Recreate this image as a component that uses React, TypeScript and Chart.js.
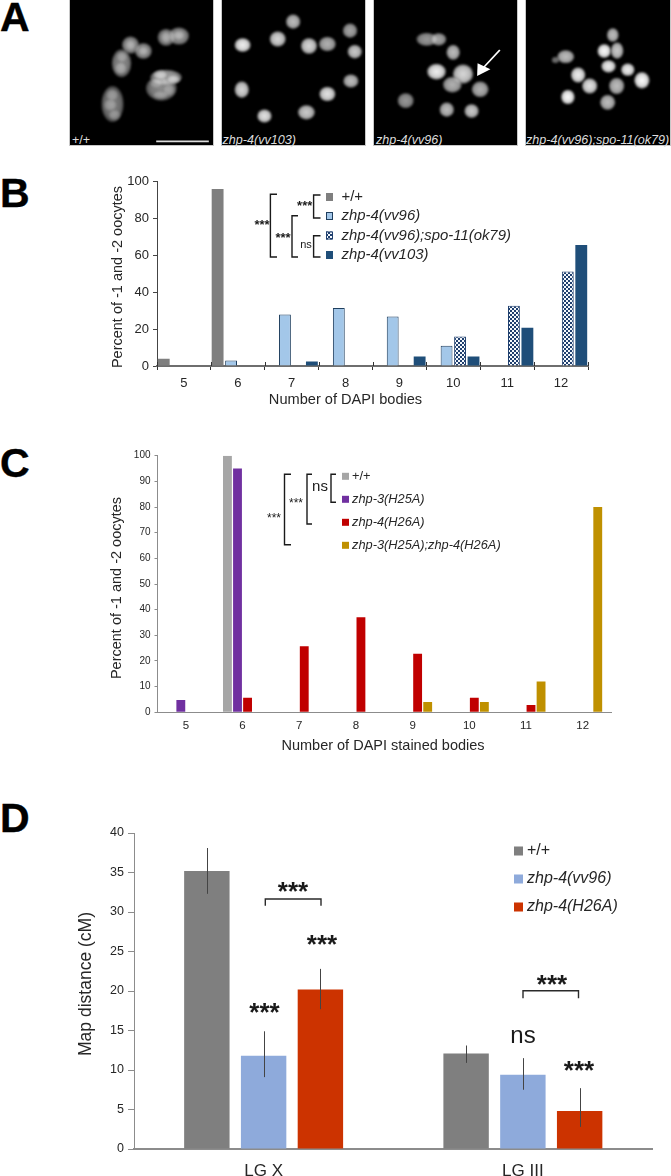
import React, { useEffect, useRef } from "react";
import { Chart, registerables } from "chart.js";

Chart.register(...registerables);

// ---------- data ----------
const bodiesCategories = ["5", "6", "7", "8", "9", "10", "11", "12"];
const bSeriesNames = ["+/+", "zhp-4(vv96)", "zhp-4(vv96);spo-11(ok79)", "zhp-4(vv103)"];
const bWildType = [4, 96, null, null, null, null, null, null];
const bVv96 = [null, 3, 28, 31.5, 26.8, 11, null, null];
const bVv96Spo11 = [null, null, null, null, null, 16, 32.7, 51.3];
const bVv103 = [null, null, 2.5, null, 5.2, 5.2, 20.7, 65.7];

const cSeriesNames = ["+/+", "zhp-3(H25A)", "zhp-4(H26A)", "zhp-3(H25A);zhp-4(H26A)"];
const cWildType = [null, 100, null, null, null, null, null, null];
const cZhp3 = [4.8, 95, null, null, null, null, null, null];
const cZhp4 = [null, 5.7, 25.7, 37, 22.8, 5.7, 2.8, null];
const cDouble = [null, null, null, null, 4, 4, 12, 80];

const dCategories = ["LG X", "LG III"];
const dSeriesNames = ["+/+", "zhp-4(vv96)", "zhp-4(H26A)"];
const dWildType = [35.2, 12.1];
const dVv96 = [11.8, 9.4];
const dH26A = [20.2, 4.8];
const dWildTypeErr = [[32.3, 38.1], [10.9, 13.1]];
const dVv96Err = [[9.1, 14.9], [7.5, 11.5]];
const dH26AErr = [[17.7, 22.8], [2.8, 7.7]];

// ---------- panel A micrographs (not chart data): cx, cy, rx, ry, level ----------
const blobs = [
  [388,112,20,26,.55],[418,108,24,26,.6],[305,135,20,26,.6],[335,153,20,24,.6],[284,190,23,42,.55],[388,232,37,23,.65],[377,265,36,37,.55],[263,312,26,54,.5],
  [388,112,12,18,.35],[418,106,14,14,.35],[305,135,12,16,.3],[335,153,12,14,.3],
  [285,170,13,16,.3],[282,205,14,18,.35],[375,225,17,14,.6],[405,238,16,13,.6],
  [365,250,15,14,.3],[395,270,14,18,.3],[375,285,18,12,.3],
  [262,285,14,18,.3],[258,315,15,18,.3],[268,345,14,16,.3],
  [685,65,17,22,.75],[818,92,17,22,.65],[649,117,19,23,.85],[567,135,19,21,.95],[722,138,19,24,.85],[765,132,20,22,.7],[829,155,17,21,.8],[820,243,18,20,.75],[565,269,17,25,.85],[765,282,19,22,.9],[716,337,20,22,.8],[618,348,17,20,.9],
  [997,118,24,20,.6],[1025,118,18,19,.65],[1059,157,16,23,.75],[1020,215,22,24,.95],[1082,222,24,29,.85],[1057,254,22,24,.7],[1122,268,20,24,.7],[948,302,19,23,.6],[1044,329,17,22,.75],[1102,333,17,21,.8],
  [1432,105,14,21,.75],[1412,153,16,21,1],[1442,152,15,25,.8],[1322,170,20,20,.75],[1298,180,9,10,.45],[1422,199,17,19,.95],[1467,209,16,19,.95],[1351,225,17,23,.95],[1378,258,18,23,.9],[1441,258,18,25,.75],[1500,241,18,25,1],[1327,291,16,22,1],[1420,307,18,23,.75],
];
const frames = [[69, 145], [221, 145], [373, 145], [525, 146]];
const captions = [
  { text: "+/+", x: 72 },
  { text: "zhp-4(vv103)", x: 222.5 },
  { text: "zhp-4(vv96)", x: 376 },
  { text: "zhp-4(vv96);spo-11(ok79)", x: 526 },
];
const panelLetters = [
  { t: "A", y: -6 }, { t: "B", y: 170 }, { t: "C", y: 440 }, { t: "D", y: 795 },
];

// ---------- annotation layout, page pixels ----------
const bBrackets = [[277, 270.4, 194.3, 257], [298, 292, 215.7, 257], [320.5, 313.6, 195, 218], [320.5, 313.6, 235.7, 257]];
const bNotes = [
  { t: "***", x: 262, y: 225, f: "bold 13px 'Liberation Sans'" },
  { t: "***", x: 283, y: 238, f: "bold 13px 'Liberation Sans'" },
  { t: "***", x: 304.7, y: 206, f: "bold 13px 'Liberation Sans'" },
  { t: "ns", x: 306, y: 245, f: "11px 'Liberation Sans'" },
];
const bLegendY = [197, 216, 235.5, 255];
const cBrackets = [[291, 284.5, 474.3, 544.7], [312, 307, 474.3, 524], [336, 331, 474.3, 502.3]];
const cNotes = [
  { t: "***", x: 274, y: 519, f: "12px 'Liberation Sans'" },
  { t: "***", x: 296, y: 504, f: "12px 'Liberation Sans'" },
  { t: "ns", x: 320, y: 487, f: "15px 'Liberation Sans'" },
];
const cLegendY = [476.3, 499.3, 522.3, 545.3];
const dBraces = [[265.3, 321, 899, 905.7], [523, 578.5, 990.7, 998.3]];
const dNotes = [
  { t: "***", x: 293, y: 893, f: "bold 26px 'Liberation Sans'" },
  { t: "***", x: 552, y: 986, f: "bold 26px 'Liberation Sans'" },
  { t: "***", x: 264.5, y: 1014, f: "bold 26px 'Liberation Sans'" },
  { t: "***", x: 322, y: 946, f: "bold 26px 'Liberation Sans'" },
  { t: "***", x: 579, y: 1072, f: "bold 26px 'Liberation Sans'" },
  { t: "ns", x: 523, y: 1036, f: "24px 'Liberation Sans'" },
];
const dLegendY = [851, 879, 907];

const FONT = "'Liberation Sans', Arial, sans-serif";
const TEXT = "#262626";

function checker() {
  const c = document.createElement("canvas");
  c.width = 4; c.height = 4;
  const x = c.getContext("2d")!;
  x.fillStyle = "#f4f8fc"; x.fillRect(0, 0, 4, 4);
  x.fillStyle = "#1f3f6e"; x.fillRect(0, 0, 2, 2); x.fillRect(2, 2, 2, 2);
  return x.createPattern(c, "repeat")!;
}

type Ann = {
  top: number;
  brackets?: number[][];
  braces?: number[][];
  notes: { t: string; x: number; y: number; f: string }[];
  legend: { names: string[]; ys: number[]; box: number[]; textX: number; font: string };
  errors?: number[][][];
  crossTicks?: boolean;
  bracketColor: string;
  yTitle: { text: string; x: number; y: number; size: number };
  xTitle?: { text: string; x: number; y: number; size: number };
};

function annotationPlugin(a: Ann) {
  return {
    id: "panelAnnotations",
    afterDatasetsDraw(chart: any) {
      const ctx = chart.ctx;
      ctx.save();
      // error bars
      (a.errors || []).forEach((series, i) => {
        const meta = chart.getDatasetMeta(i);
        series.forEach(([lo, hi], j) => {
          const x = Math.round(meta.data[j].x) + 0.5;
          ctx.strokeStyle = "#444"; ctx.lineWidth = 1;
          ctx.beginPath();
          ctx.moveTo(x, chart.scales.y.getPixelForValue(lo));
          ctx.lineTo(x, chart.scales.y.getPixelForValue(hi));
          ctx.stroke();
        });
      });
      if (a.crossTicks) {
        const sx = chart.scales.x;
        ctx.strokeStyle = "#333"; ctx.lineWidth = 1;
        const n = sx.ticks.length;
        for (let i = 0; i <= n; i++) {
          const x = Math.round(chart.chartArea.left + (i * chart.chartArea.width) / n) + 0.5;
          ctx.beginPath();
          ctx.moveTo(x, chart.chartArea.bottom - 4);
          ctx.lineTo(x, chart.chartArea.bottom);
          ctx.stroke();
        }
      }
      ctx.strokeStyle = a.bracketColor; ctx.lineWidth = 1.4; ctx.lineJoin = "miter";
      (a.brackets || []).forEach(([x1, x0, y0, y1]) => {
        ctx.beginPath();
        ctx.moveTo(x1, y0 - a.top); ctx.lineTo(x0, y0 - a.top);
        ctx.lineTo(x0, y1 - a.top); ctx.lineTo(x1, y1 - a.top);
        ctx.stroke();
      });
      (a.braces || []).forEach(([x0, x1, y0, y1]) => {
        ctx.beginPath();
        ctx.moveTo(x0, y1 - a.top); ctx.lineTo(x0, y0 - a.top);
        ctx.lineTo(x1, y0 - a.top); ctx.lineTo(x1, y1 - a.top);
        ctx.stroke();
      });
      ctx.fillStyle = "#1a1a1a"; ctx.textAlign = "center"; ctx.textBaseline = "middle";
      a.notes.forEach((n) => {
        ctx.font = n.f;
        ctx.fillText(n.t, n.x, n.y - a.top);
      });
      // axis titles
      ctx.fillStyle = TEXT;
      if (a.xTitle) {
        ctx.font = `${a.xTitle.size}px ${FONT}`;
        ctx.fillText(a.xTitle.text, a.xTitle.x, a.xTitle.y - a.top);
      }
      ctx.save();
      ctx.translate(a.yTitle.x, a.yTitle.y - a.top);
      ctx.rotate(-Math.PI / 2);
      ctx.font = `${a.yTitle.size}px ${FONT}`;
      ctx.fillText(a.yTitle.text, 0, 0);
      ctx.restore();
      // legend
      const [bx, bw, bh] = a.legend.box;
      a.legend.names.forEach((name, i) => {
        const y = a.legend.ys[i] - a.top;
        const ds = chart.data.datasets[i];
        ctx.fillStyle = ds.backgroundColor;
        ctx.fillRect(bx, y - bh / 2, bw, bh);
        if (ds.borderWidth) {
          ctx.strokeStyle = ds.borderColor; ctx.lineWidth = 1;
          ctx.strokeRect(bx + 0.5, y - bh / 2 + 0.5, bw - 1, bh - 1);
        }
        ctx.fillStyle = TEXT; ctx.textAlign = "left";
        ctx.font = (name === "+/+" ? "" : "italic ") + a.legend.font;
        ctx.fillText(name, a.legend.textX, y);
      });
      ctx.restore();
    },
  };
}

function build(
  canvas: HTMLCanvasElement,
  opts: {
    labels: string[]; datasets: any[]; pad: any; yWidth: number; xHeight: number;
    yMax: number; yStep: number; yTick: number; xTick: number; xPad: number;
    axisY: string; axisX: string; xWidth: number; xTicks?: boolean; yTickLen: number; ann: Ann;
  }
) {
  return new Chart(canvas, {
    type: "bar",
    data: { labels: opts.labels, datasets: opts.datasets },
    plugins: [annotationPlugin(opts.ann)],
    options: {
      animation: false,
      responsive: false,
      devicePixelRatio: 1,
      layout: { padding: opts.pad, autoPadding: false },
      plugins: { legend: { display: false }, tooltip: { enabled: false }, title: { display: false } },
      scales: {
        x: {
          grid: {
            display: !!opts.xTicks, drawOnChartArea: false, drawTicks: !!opts.xTicks,
            tickLength: 4, color: "#333", offset: true,
          },
          border: { color: opts.axisX, width: opts.xWidth },
          ticks: { autoSkip: false, maxRotation: 0, padding: opts.xPad, color: TEXT, font: { family: FONT, size: opts.xTick } },
          afterFit(s: any) { s.height = opts.xHeight; },
        },
        y: {
          min: 0, max: opts.yMax,
          afterBuildTicks(s: any) {
            const t = [];
            for (let v = 0; v <= opts.yMax; v += opts.yStep) t.push({ value: v });
            s.ticks = t;
          },
          grid: { drawOnChartArea: false, tickLength: opts.yTickLen, color: opts.axisY },
          border: { color: opts.axisY, width: 1 },
          ticks: { padding: 4, color: TEXT, font: { family: FONT, size: opts.yTick } },
          afterFit(s: any) { s.width = opts.yWidth; },
        },
      },
    },
  } as any);
}

export default function App() {
  const bRef = useRef<HTMLCanvasElement>(null);
  const cRef = useRef<HTMLCanvasElement>(null);
  const dRef = useRef<HTMLCanvasElement>(null);

  useEffect(() => {
    const bShared = { categoryPercentage: 1, barPercentage: 0.88, borderSkipped: "bottom" };
    const b = build(bRef.current!, {
      labels: bodiesCategories,
      datasets: [
        { ...bShared, label: bSeriesNames[0], data: bWildType, backgroundColor: "#7f7f7f", borderWidth: 0 },
        { ...bShared, label: bSeriesNames[1], data: bVv96, backgroundColor: "#a3c7e9", borderColor: "#1f3f5f", borderWidth: 1 },
        { ...bShared, label: bSeriesNames[2], data: bVv96Spo11, backgroundColor: checker(), borderColor: "#1f3f6e", borderWidth: 1 },
        { ...bShared, label: bSeriesNames[3], data: bVv103, backgroundColor: "#1f4e79", borderWidth: 0 },
      ],
      pad: { left: 110, right: 83, top: 21.7, bottom: 11.3 },
      yWidth: 47, xHeight: 42.7, yMax: 100, yStep: 20,
      yTick: 13, xTick: 13, xPad: 6,
      axisY: "#444", axisX: "#6e6e6e", xWidth: 2, xTicks: true, yTickLen: 4,
      ann: {
        top: 160, brackets: bBrackets, notes: bNotes, crossTicks: true, bracketColor: "#1a1a1a",
        yTitle: { text: "Percent of -1 and -2 oocytes", x: 118, y: 277, size: 14.5 },
        xTitle: { text: "Number of DAPI bodies", x: 345.5, y: 400, size: 14.6 },
        legend: { names: bSeriesNames, ys: bLegendY, box: [326, 7, 8], textX: 341.5, font: `14.9px ${FONT}` },
      },
    });

    const cShared = { categoryPercentage: 0.71, barPercentage: 0.88, borderSkipped: "bottom", borderWidth: 0 };
    const c = build(cRef.current!, {
      labels: bodiesCategories,
      datasets: [
        { ...cShared, label: cSeriesNames[0], data: cWildType, backgroundColor: "#a6a6a6" },
        { ...cShared, label: cSeriesNames[1], data: cZhp3, backgroundColor: "#7030a0" },
        { ...cShared, label: cSeriesNames[2], data: cZhp4, backgroundColor: "#c00000" },
        { ...cShared, label: cSeriesNames[3], data: cDouble, backgroundColor: "#bf9000" },
      ],
      pad: { left: 109, right: 60, top: 25.7, bottom: 15 },
      yWidth: 48.5, xHeight: 42.7, yMax: 100, yStep: 10,
      yTick: 10, xTick: 11.5, xPad: 7,
      axisY: "#8c8c8c", axisX: "#8c8c8c", xWidth: 1, yTickLen: 3,
      ann: {
        top: 430, brackets: cBrackets, notes: cNotes, bracketColor: "#1a1a1a",
        yTitle: { text: "Percent of -1 and -2 oocytes", x: 117, y: 588, size: 14.5 },
        xTitle: { text: "Number of DAPI stained bodies", x: 383, y: 746, size: 14.5 },
        legend: { names: cSeriesNames, ys: cLegendY, box: [342, 7, 7], textX: 352, font: `12.8px ${FONT}` },
      },
    });

    const dShared = { categoryPercentage: 0.657, barPercentage: 0.8, borderSkipped: "bottom", borderWidth: 0 };
    const d = build(dRef.current!, {
      labels: dCategories,
      datasets: [
        { ...dShared, label: dSeriesNames[0], data: dWildType, backgroundColor: "#7f7f7f" },
        { ...dShared, label: dSeriesNames[1], data: dVv96, backgroundColor: "#8eaadb" },
        { ...dShared, label: dSeriesNames[2], data: dH26A, backgroundColor: "#cc3300" },
      ],
      pad: { left: 75.5, right: 18.5, top: 43, bottom: 0 },
      yWidth: 58.5, xHeight: 27, yMax: 40, yStep: 5,
      yTick: 12.5, xTick: 17, xPad: 12,
      axisY: "#8c8c8c", axisX: "#8c8c8c", xWidth: 2, yTickLen: 6,
      ann: {
        top: 790, braces: dBraces, notes: dNotes, bracketColor: "#2a2a2a",
        errors: [dWildTypeErr, dVv96Err, dH26AErr],
        yTitle: { text: "Map distance (cM)", x: 86, y: 984, size: 17.5 },
        legend: { names: dSeriesNames, ys: dLegendY, box: [514, 9, 9], textX: 527, font: `16px ${FONT}` },
      },
    });
    return () => { b.destroy(); c.destroy(); d.destroy(); };
  }, []);

  const abs = (left: number, top: number): React.CSSProperties => ({ position: "absolute", left, top, display: "block" });

  return (
    <div style={{ position: "absolute", left: 0, top: 0, width: 671, height: 1176, background: "#fff", overflow: "hidden", fontFamily: FONT }}>
      {frames.map(([x, w]) => (
        <div key={x} style={{ ...abs(x, 0), width: w - 2, height: 145, background: "#000", border: "1px solid #c8c8c8", borderTop: "none" }} />
      ))}
      <svg viewBox="0 0 1568 480" preserveAspectRatio="none" width={671} height={160} style={abs(0, 0)}>
        <defs>
          <radialGradient id="nuc" cx="50%" cy="50%" r="50%">
            <stop offset="0%" stopColor="#fff" />
            <stop offset="70%" stopColor="#d8d8d8" />
            <stop offset="100%" stopColor="#777" />
          </radialGradient>
          <filter id="soft" x="-40%" y="-40%" width="180%" height="180%">
            <feGaussianBlur stdDeviation="3" />
          </filter>
        </defs>
        {blobs.map(([cx, cy, rx, ry, o], i) => (
          <ellipse key={i} cx={cx} cy={cy} rx={rx} ry={ry} fill="url(#nuc)" opacity={o} filter="url(#soft)" />
        ))}
        <line x1="365" x2="488" y1="424" y2="424" stroke="#ddd" strokeWidth="5" />
        <line x1="1168" y1="150" x2="1128" y2="205" stroke="#fff" strokeWidth="4" />
        <polygon points="1115,228 1116,190 1146,208" fill="#fff" />
      </svg>
      {captions.map((c) => (
        <div key={c.x} style={{ ...abs(c.x, 133), color: "#ddd", fontSize: 12.6, lineHeight: "14px", whiteSpace: "nowrap", fontStyle: c.text === "+/+" ? "normal" : "italic" }}>{c.text}</div>
      ))}
      {panelLetters.map((l) => (
        <div key={l.t} style={{ ...abs(0, l.y), color: "#000", fontWeight: 700, fontSize: 41, lineHeight: "46px", WebkitTextStroke: "0.4px #000" }}>{l.t}</div>
      ))}
      <canvas ref={bRef} width={671} height={260} style={abs(0, 160)} />
      <canvas ref={cRef} width={671} height={340} style={abs(0, 430)} />
      <canvas ref={dRef} width={671} height={386} style={abs(0, 790)} />
    </div>
  );
}
